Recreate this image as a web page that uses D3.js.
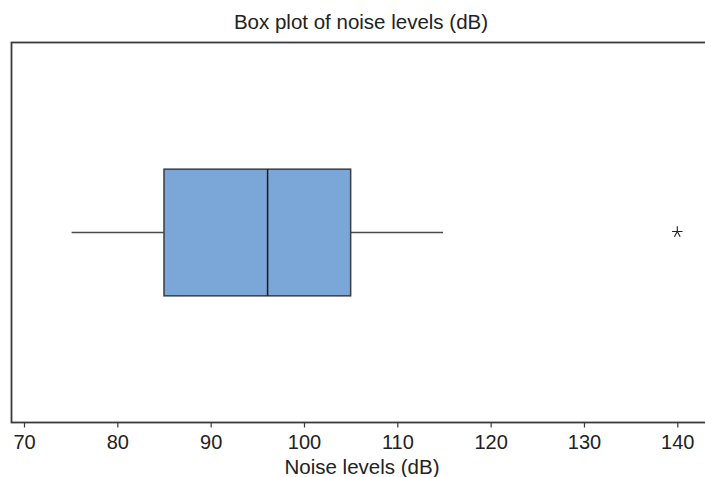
<!DOCTYPE html>
<html>
<head>
<meta charset="utf-8">
<script src="https://cdn.jsdelivr.net/npm/d3@7"></script>
<style>
  html, body { margin: 0; padding: 0; background: #fff; }
  svg { display: block; font-family: "Liberation Sans", Arial, Helvetica, sans-serif; }
</style>
</head>
<body>
<svg id="chart" width="705" height="477"></svg>
<script>
// Summary statistics of the noise-level sample (dB)
const categories = ["Noise levels"];
const whiskerLow = [75.1];
const quartile1 = [85];
const medians = [96.1];
const quartile3 = [105];
const whiskerHigh = [114.9];
const outliers = [140];
const tickValues = [70, 80, 90, 100, 110, 120, 130, 140];

const svg = d3.select("#chart");
const plot = { left: 11.5, right: 716, top: 42.5, bottom: 422.5 };

const x = d3.scaleLinear().domain([70, 140]).range([24, 677.3]);
const y = d3.scaleBand().domain(categories)
  .range([plot.top, plot.bottom]).paddingInner(0).paddingOuter(1);

// Outlier marker: a starred cross (horizontal bar, upward stem, two lower legs)
const symbolStar = {
  draw(context, size) {
    const r = Math.sqrt(size) / 2;
    context.moveTo(-r, 0); context.lineTo(r, 0);
    context.moveTo(0, 0); context.lineTo(0, -r);
    context.moveTo(0, 0); context.lineTo(-r * 0.55, r);
    context.moveTo(0, 0); context.lineTo(r * 0.55, r);
  }
};

// Plot frame
svg.append("rect")
  .attr("x", plot.left).attr("y", plot.top)
  .attr("width", plot.right - plot.left).attr("height", plot.bottom - plot.top)
  .attr("fill", "none").attr("stroke", "#3a3a3a").attr("stroke-width", 1.8);

// Bottom axis
const axis = svg.append("g")
  .attr("transform", `translate(0,${plot.bottom})`)
  .call(d3.axisBottom(x).tickValues(tickValues).tickSize(5).tickPadding(7).tickFormat(d3.format("d")));
axis.select(".domain").remove();
axis.selectAll(".tick line").attr("stroke", "#3a3a3a").attr("stroke-width", 1.2);
axis.selectAll(".tick text").attr("fill", "#222").style("font-size", "20px");

// Box plot
const g = svg.append("g");
categories.forEach((c, i) => {
  const top = y(c), h = y.bandwidth(), mid = top + h / 2;
  // whiskers
  g.append("line").attr("x1", x(whiskerLow[i])).attr("x2", x(quartile1[i]))
    .attr("y1", mid).attr("y2", mid).attr("stroke", "#4a4a4a").attr("stroke-width", 1.5);
  g.append("line").attr("x1", x(quartile3[i])).attr("x2", x(whiskerHigh[i]))
    .attr("y1", mid).attr("y2", mid).attr("stroke", "#4a4a4a").attr("stroke-width", 1.5);
  // box
  g.append("rect").attr("x", x(quartile1[i])).attr("y", top)
    .attr("width", x(quartile3[i]) - x(quartile1[i])).attr("height", h)
    .attr("fill", "#7ba6d8").attr("stroke", "#3c3c44").attr("stroke-width", 1.5);
  // median
  g.append("line").attr("x1", x(medians[i])).attr("x2", x(medians[i]))
    .attr("y1", top).attr("y2", top + h).attr("stroke", "#1a1a1a").attr("stroke-width", 1.5);
  // outliers
  outliers.forEach(v => {
    g.append("path")
      .attr("d", d3.symbol(symbolStar, 110)())
      .attr("transform", `translate(${x(v)},${mid - 1})`)
      .attr("fill", "none").attr("stroke", "#222").attr("stroke-width", 1.1);
  });
});

// Title and axis label
svg.append("text").attr("x", 361).attr("y", 29).attr("text-anchor", "middle")
  .attr("fill", "#222").style("font-size", "20.5px").text("Box plot of noise levels (dB)");
svg.append("text").attr("x", 362).attr("y", 474).attr("text-anchor", "middle")
  .attr("fill", "#222").style("font-size", "20.5px").text("Noise levels (dB)");
</script>
</body>
</html>
